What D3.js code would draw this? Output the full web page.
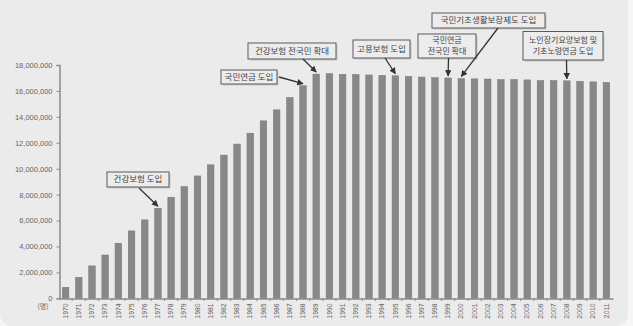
<!DOCTYPE html>
<html>
<head>
<meta charset="utf-8">
<script src="https://cdn.jsdelivr.net/npm/d3@7/dist/d3.min.js"></script>
<style>
  html, body { margin: 0; padding: 0; background: #f6f6f6; }
  svg { display: block; }
</style>
</head>
<body>
<svg id="chart" width="633" height="326"></svg>
<script>
// ---- data ----
const years = d3.range(1970, 2012).map(String);
const values = [
  850000, 1620000, 2500000, 3340000, 4250000, 5200000, 6050000, 6950000, 7800000, 8620000,
  9440000, 10300000, 11050000, 11900000, 12740000, 13690000, 14540000, 15490000, 16400000, 17300000,
  17340000, 17280000, 17270000, 17230000, 17200000, 17170000, 17120000, 17070000, 17020000, 17000000,
  16960000, 16930000, 16920000, 16880000, 16880000, 16850000, 16800000, 16800000, 16780000, 16740000,
  16700000, 16650000
];
const yTicks = [0, 2000000, 4000000, 6000000, 8000000, 10000000, 12000000, 14000000, 16000000, 18000000];
const unitLabel = "(명)";
const annoYears = ["1977", "1988", "1989", "1995", "1999", "2000", "2008"];
const annoTexts = [
  ["건강보험 도입"],
  ["국민연금 도입"],
  ["건강보험 전국민 확대"],
  ["고용보험 도입"],
  ["국민연금", "전국민 확대"],
  ["국민기초생활보장제도 도입"],
  ["노인장기요양보험 및", "기초노령연금 도입"]
];

// ---- layout ----
const svg = d3.select("#chart");
const numFont = "'Liberation Sans', Arial, sans-serif";
const krFont = "'Noto Sans CJK KR', 'Noto Sans', sans-serif";

svg.append("rect").attr("x", 0).attr("y", -12).attr("width", 628).attr("height", 338)
  .attr("rx", 12).attr("fill", "#ebebeb");

const x = d3.scaleBand().domain(years).range([59, 613]).paddingInner(0.5).paddingOuter(0.25);
const y = d3.scaleLinear().domain([0, 18000000]).range([298.3, 65]);

// bars
svg.append("g").selectAll("rect").data(years).join("rect")
  .attr("x", d => x(d))
  .attr("y", (d, i) => y(values[i]))
  .attr("width", x.bandwidth())
  .attr("height", (d, i) => y(0) - y(values[i]))
  .attr("fill", "#888888")
  .attr("stroke", "#777")
  .attr("stroke-width", 0.5);

// y axis
const yAxis = d3.axisLeft(y).tickValues(yTicks).tickSize(3).tickPadding(4)
  .tickFormat(d3.format(","));
const gy = svg.append("g").attr("transform", "translate(59.5,0)").call(yAxis);
gy.select(".domain").attr("stroke", "#8a8a8a").attr("stroke-width", 1.5);
gy.selectAll(".tick line").attr("stroke", "#8a8a8a");
gy.selectAll(".tick text").attr("fill", "#666").style("font-family", numFont).style("font-size", "7.5px");

// x axis
const xAxis = d3.axisBottom(x).tickSize(0).tickPadding(5);
const gx = svg.append("g").attr("transform", "translate(0,298.5)").call(xAxis);
gx.select(".domain").attr("stroke", "#8a8a8a").attr("stroke-width", 1.5);
gx.selectAll(".tick text")
  .attr("transform", "rotate(-90)")
  .attr("x", -5).attr("y", 0).attr("dy", "0.32em")
  .attr("text-anchor", "end")
  .attr("fill", "#666").style("font-family", numFont).style("font-size", "6.8px");
// small ticks between bars
svg.append("g").selectAll("line").data(years.slice(1)).join("line")
  .attr("x1", d => x(d) - x.step() * x.paddingInner() / 2)
  .attr("x2", d => x(d) - x.step() * x.paddingInner() / 2)
  .attr("y1", 298.5).attr("y2", 301)
  .attr("stroke", "#8a8a8a").attr("stroke-width", 1);

svg.append("text").attr("x", 43).attr("y", 309).attr("text-anchor", "middle")
  .attr("fill", "#666").style("font-family", krFont).style("font-size", "7px").text(unitLabel);

// annotations
const defs = svg.append("defs");
defs.append("marker").attr("id", "arr").attr("viewBox", "0 0 10 10")
  .attr("refX", 9).attr("refY", 5).attr("markerWidth", 5).attr("markerHeight", 5)
  .attr("orient", "auto-start-reverse")
  .append("path").attr("d", "M0,0 L10,5 L0,10 z").attr("fill", "#333");

const boxes = [
  { bx: 107, by: 172, bw: 62, bh: 15, sx: 139, sy: 188 },
  { bx: 221, by: 70, bw: 56, bh: 14, sx: 279, sy: 77 },
  { bx: 248, by: 43, bw: 88, bh: 16, sx: 303, sy: 59 },
  { bx: 353, by: 40, bw: 57, bh: 18, sx: 385, sy: 58 },
  { bx: 418, by: 34, bw: 58, bh: 24, sx: 448.5, sy: 58 },
  { bx: 432, by: 13, bw: 113, bh: 15, sx: 498, sy: 28 },
  { bx: 523, by: 31.5, bw: 80, bh: 28.5, sx: 566.5, sy: 60 }
];

const ga = svg.append("g");
annoYears.forEach((yr, i) => {
  const b = boxes[i];
  const v = values[years.indexOf(yr)];
  const ex = x(yr) + x.bandwidth() / 2;
  const ey = y(v) - 2;
  ga.append("rect").attr("x", b.bx + 1.5).attr("y", b.by + 1.5).attr("width", b.bw).attr("height", b.bh)
    .attr("fill", "#c9c9c9");
  ga.append("rect").attr("x", b.bx).attr("y", b.by).attr("width", b.bw).attr("height", b.bh)
    .attr("fill", "#ececec").attr("stroke", "#5a5a5a").attr("stroke-width", 1);
  const lines = annoTexts[i];
  const lh = 11;
  const fs = lines.length > 1 ? 8 : 8.5;
  const cy = b.by + b.bh / 2 - (lines.length - 1) * lh / 2;
  lines.forEach((t, j) => {
    ga.append("text").attr("x", b.bx + b.bw / 2).attr("y", cy + j * lh).attr("dy", "0.35em")
      .attr("text-anchor", "middle").attr("fill", "#444")
      .style("font-family", krFont).style("font-size", fs + "px").text(t);
  });
  ga.append("line").attr("x1", b.sx).attr("y1", b.sy).attr("x2", ex).attr("y2", ey)
    .attr("stroke", "#333").attr("stroke-width", 1.3).attr("marker-end", "url(#arr)");
});
</script>
</body>
</html>
